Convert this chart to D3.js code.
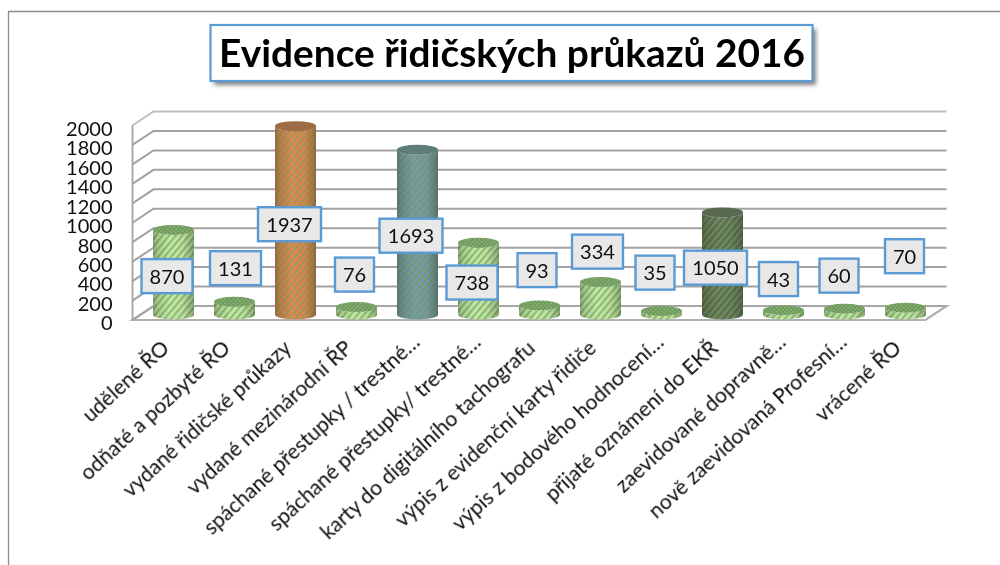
<!DOCTYPE html>
<html lang="cs">
<head>
<meta charset="utf-8">
<title>Evidence řidičských průkazů 2016</title>
<script src="https://cdn.jsdelivr.net/npm/d3@7/dist/d3.min.js"></script>
<style>
html,body{margin:0;padding:0;background:#fff;overflow:hidden}
text{font-family:Lato,"Open Sans",sans-serif;fill:#111}
</style>
</head>
<body>
<svg id="chart" width="1000" height="565"></svg>
<script>
const chartTitle = "Evidence řidičských průkazů 2016";
const categories = [
  "udělené ŘO","odňaté a pozbyté ŘO","vydané řidičské průkazy","vydané mezinárodní ŘP",
  "spáchané přestupky / trestné…","spáchané přestupky/ trestné…","karty do digitálního tachografu",
  "výpis z evidenční karty řidiče","výpis z bodového hodnocení…","přijaté oznámení do EKŘ",
  "zaevidované dopravně…","nově zaevidovaná Profesní…","vrácené ŘO"
];
const values = [870,131,1937,76,1693,738,93,334,35,1050,43,60,70];
const tickValues = [0,200,400,600,800,1000,1200,1400,1600,1800,2000];
const barThemes = ["green","green","orange","green","blue","green","green","green","green","olive","green","green","green"];
// hand-placed data labels: height read on the value axis, sideways shift in px
const labelLevels = [451,533,985,467,867,385,513,703,487,538,421,456,656];
const labelShifts = [-6.5,1,-6,-2,-6.5,-6.5,-2.5,-3,-6.5,-7,-5,-5.5,-1];

const themes = {
  green:  {a:"#c9e8ad", b:"#8cc070", top:"#6f9a5c", dot:"#a3c98c"},
  orange: {a:"#e5854f", b:"#a09a58", top:"#9a6a42", dot:"#b0744a"},
  blue:   {a:"#7d98b2", b:"#6f9f72", top:"#5a7a7a", dot:"#6f8f80"},
  olive:  {a:"#626e5a", b:"#6d9458", top:"#56664e", dot:"#6a7d5c"}
};

const svg = d3.select("#chart");
const defs = svg.append("defs");

// layout
const floorLeft = 132.5, floorRight = 925.5, depthX = 21, depthY = 14;
const y = d3.scaleLinear().domain([0,2000]).range([320,125.5]);
const x = d3.scalePoint().domain(categories).range([173.5,905.5]);
const rx = 20.5, ry = 5, baseLift = 5.5;

// defs
Object.entries(themes).forEach(([k,t])=>{
  const p = defs.append("pattern").attr("id","hatch-"+k).attr("width",5).attr("height",5)
    .attr("patternUnits","userSpaceOnUse").attr("patternTransform","rotate(40)");
  p.append("rect").attr("width",5).attr("height",5).attr("fill",t.a);
  p.append("rect").attr("width",2.2).attr("height",5).attr("fill",t.b);
  const q = defs.append("pattern").attr("id","dots-"+k).attr("width",3).attr("height",3)
    .attr("patternUnits","userSpaceOnUse").attr("patternTransform","rotate(45)");
  q.append("rect").attr("width",3).attr("height",3).attr("fill",t.top);
  q.append("circle").attr("cx",1.5).attr("cy",1.5).attr("r",.75).attr("fill",t.dot);
});
const shade = defs.append("linearGradient").attr("id","shade");
[[0,.34],[.12,.16],[.4,0],[.72,.04],[.92,.24],[1,.38]].forEach(([o,a])=>
  shade.append("stop").attr("offset",o).attr("stop-color","#1e2a18").attr("stop-opacity",a));
const soft = defs.append("filter").attr("id","soft").attr("x","-10%").attr("y","-10%").attr("width","120%").attr("height","120%");
soft.append("feGaussianBlur").attr("stdDeviation",.35);
const softer = defs.append("filter").attr("id","softer").attr("x","-5%").attr("y","-5%").attr("width","110%").attr("height","110%");
softer.append("feGaussianBlur").attr("stdDeviation",.55);
const shadow = defs.append("filter").attr("id","shadow").attr("x","-5%").attr("y","-30%").attr("width","110%").attr("height","160%");
shadow.append("feGaussianBlur").attr("stdDeviation",2.2);

// frame
svg.append("path").attr("d","M8.5,565V11.5H1000").attr("fill","none").attr("stroke","#8c8c8c").attr("stroke-width",1.3);

// floor and walls
const grid = svg.append("g").attr("fill","none").attr("stroke","#a2a2a2").attr("stroke-width",2);
grid.append("path")
  .attr("d",`M${floorLeft},${y(0)}H${floorRight}L${floorRight+depthX},${y(0)-depthY}H${floorLeft+depthX}Z`)
  .attr("stroke","#b0b0b0").attr("stroke-width",2.2).attr("fill","#fff");
grid.append("line").attr("x1",floorLeft).attr("x2",floorLeft).attr("y1",y(2000)).attr("y2",y(0)).attr("stroke-width",1.8);
grid.selectAll(".g").data(tickValues).join("path").attr("class","g")
  .attr("d",d=>`M${floorLeft},${y(d)}L${floorLeft+depthX},${y(d)-depthY}H${floorRight+depthX}`)
  .attr("stroke-opacity",d=>d===2000?.7:1).attr("stroke-width",d=>d===0?1.6:2);

// cylinders
const bars = svg.append("g").attr("filter","url(#softer)");
categories.forEach((c,i)=>{
  const v = values[i], cx = x(c), t = barThemes[i];
  const yt = y(v)-baseLift, yb = y(0)-baseLift;
  const body = `M${cx-rx},${yt}V${yb}A${rx},${ry} 0 0 0 ${cx+rx},${yb}V${yt}A${rx},${ry} 0 0 1 ${cx-rx},${yt}Z`;
  const g = bars.append("g");
  g.append("path").attr("d",body).attr("fill",`url(#hatch-${t})`);
  g.append("path").attr("d",body).attr("fill","url(#shade)");
  g.append("ellipse").attr("cx",cx).attr("cy",yt).attr("rx",rx).attr("ry",ry).attr("fill",`url(#dots-${t})`);
});

// value axis (tick labels only)
const axis = d3.axisLeft(y).tickValues(tickValues).tickSize(0).tickPadding(0).tickFormat(d3.format("d"));
const ya = svg.append("g").attr("transform","translate(112.5,3)").call(axis);
ya.select(".domain").remove();
ya.selectAll("text").attr("font-size",20).style("font-family","Lato").attr("dy","0.34em").attr("filter","url(#soft)");

// category labels: truncated ones reach a little further along the slope
svg.append("g").selectAll("text").data(categories).join("text")
  .attr("transform",d=>`translate(${x(d)-3},350) rotate(-42.5)`)
  .attr("x",d=>d.endsWith("…")?9:0)
  .attr("text-anchor","end").attr("font-size",21).attr("filter","url(#soft)").text(d=>d);

// data labels
const lab = svg.append("g").selectAll("g").data(categories).join("g")
  .attr("transform",(d,i)=>`translate(${x(d)+labelShifts[i]},${y(labelLevels[i])})`);
lab.append("rect")
  .attr("x",(d,i)=>-(15+12*String(values[i]).length)/2).attr("y",-17)
  .attr("width",(d,i)=>15+12*String(values[i]).length).attr("height",34)
  .attr("fill","#e8e8e8").attr("stroke","#5b9bd5").attr("stroke-width",2.4);
lab.append("text").attr("text-anchor","middle").attr("y",7.5).attr("font-size",20).attr("filter","url(#soft)").text((d,i)=>values[i]);

// title
svg.append("rect").attr("x",214).attr("y",29).attr("width",602).attr("height",56).attr("fill","#555").attr("fill-opacity",.75).attr("filter","url(#shadow)");
svg.append("rect").attr("x",210.5).attr("y",25).attr("width",602).attr("height",56).attr("fill","#fff").attr("stroke","#5b9bd5").attr("stroke-width",2.2);
svg.append("text").attr("x",512).attr("y",67).attr("text-anchor","middle").attr("font-size",38).attr("font-weight",700)
  .attr("textLength",586).attr("lengthAdjust","spacingAndGlyphs")
  .attr("filter","url(#soft)").style("fill","#000").text(chartTitle);
</script>
</body>
</html>
